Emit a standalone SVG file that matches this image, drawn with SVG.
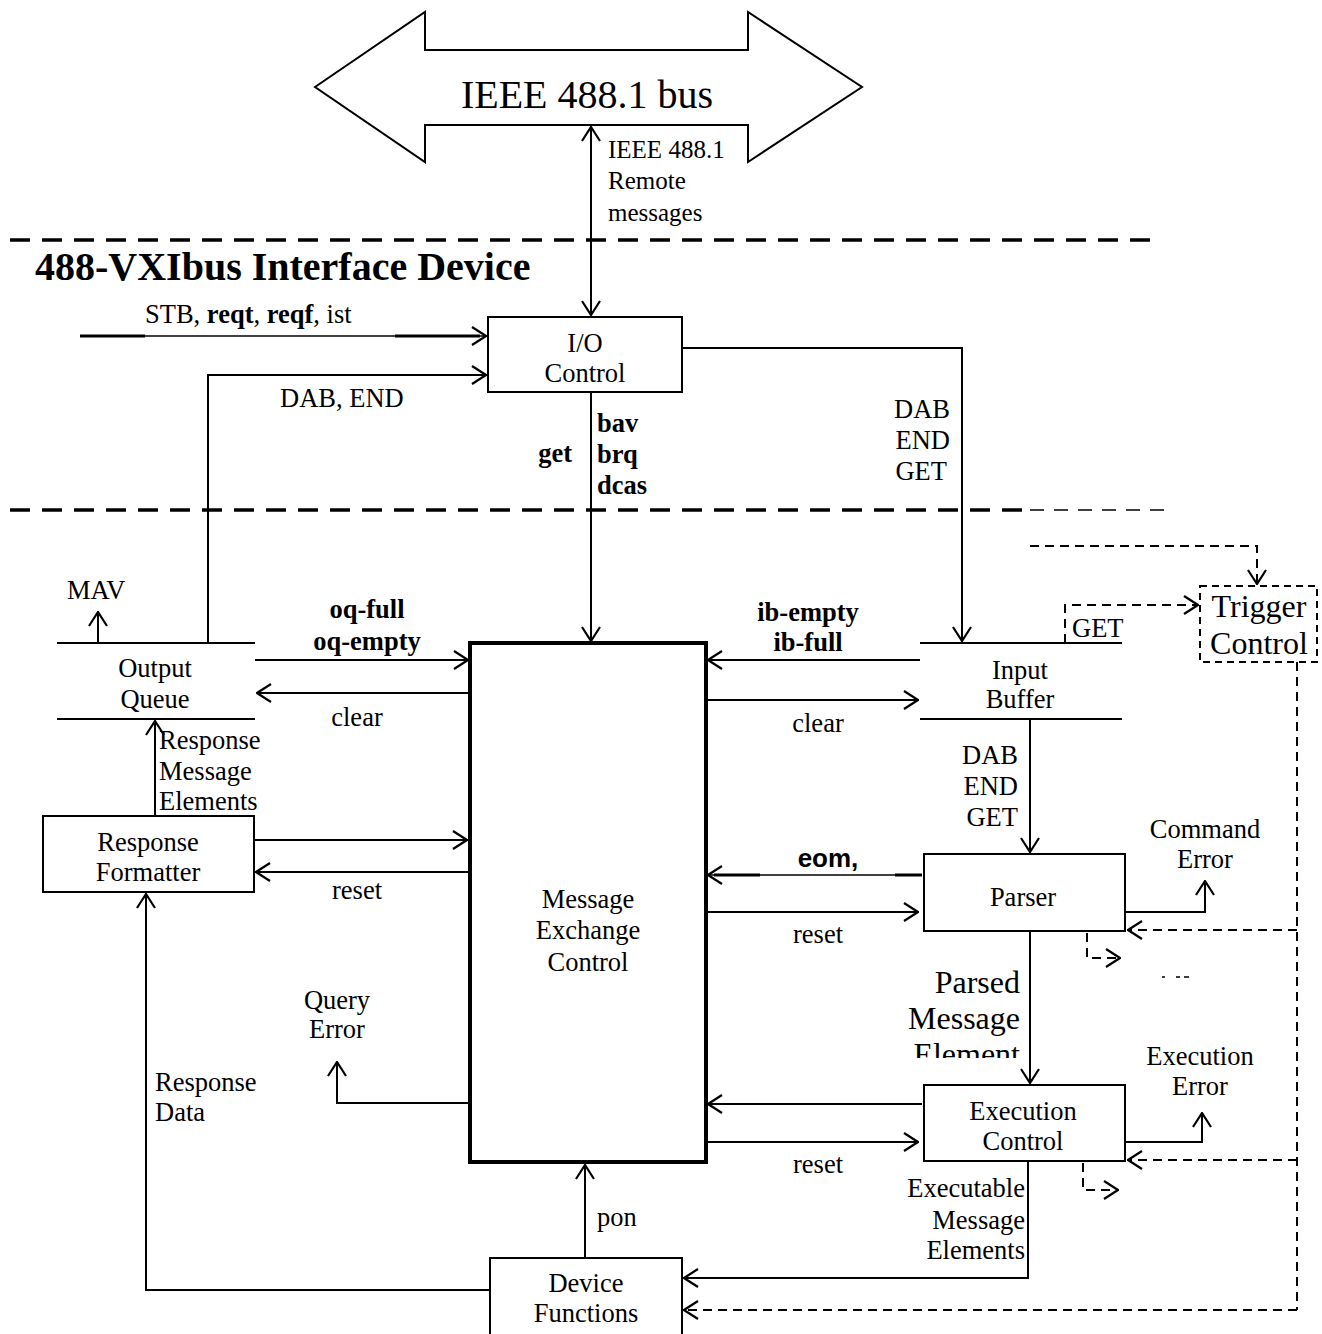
<svg xmlns="http://www.w3.org/2000/svg" width="1322" height="1334" viewBox="0 0 1322 1334">
<style>
text{font-family:"Liberation Serif","Times New Roman",serif;font-size:26.5px;fill:#000}
.c{text-anchor:middle}
.r{text-anchor:end}
.b{font-weight:bold}
.big{font-size:32px}
.box{fill:#fff;stroke:#000;stroke-width:2}
.ln{fill:none;stroke:#000;stroke-width:2}
.dl{fill:none;stroke:#000;stroke-width:2;stroke-dasharray:9,6}
.sep{fill:none;stroke:#000;stroke-width:3.5;stroke-dasharray:20,12}
.a{marker-end:url(#ah)}
</style>
<defs>
<marker id="ah" viewBox="0 0 16 20" refX="15" refY="10" markerWidth="16" markerHeight="20" markerUnits="userSpaceOnUse" orient="auto">
<path d="M1,1 L15,10 L1,19" fill="none" stroke="#000" stroke-width="2.2"/>
</marker>
<marker id="as" viewBox="0 0 16 20" refX="1" refY="10" markerWidth="16" markerHeight="20" markerUnits="userSpaceOnUse" orient="auto">
<path d="M15,1 L1,10 L15,19" fill="none" stroke="#000" stroke-width="2.2"/>
</marker>
<clipPath id="clipPE"><rect x="860" y="960" width="180" height="98"/></clipPath>
</defs>

<g id="bus">
<polygon points="315,87 425,12 425,50 748,50 748,12 862,87 748,162 748,125 425,125 425,162" fill="#fff" stroke="#000" stroke-width="2"/>
<text x="587" y="108" class="c" style="font-size:40px">IEEE 488.1 bus</text>
</g>

<g id="separators">
<line x1="10" y1="240" x2="1160" y2="240" class="sep"/>
<line x1="10" y1="510" x2="1025" y2="510" class="sep"/>
<line x1="1030" y1="510" x2="1165" y2="510" fill="none" stroke="#000" stroke-width="1.5" stroke-dasharray="14,10"/>
<text x="35" y="280" class="b" style="font-size:40px">488-VXIbus Interface Device</text>
</g>

<g id="io-control">
<rect x="488" y="317" width="194" height="75" class="box"/>
<text x="585" y="352" class="c">I/O</text>
<text x="585" y="382" class="c">Control</text>
</g>

<g id="output-queue">
<line x1="57" y1="643" x2="255" y2="643" class="ln"/>
<line x1="57" y1="719" x2="255" y2="719" class="ln"/>
<text x="155" y="677" class="c">Output</text>
<text x="155" y="708" class="c">Queue</text>
</g>

<g id="input-buffer">
<line x1="920" y1="643" x2="1122" y2="643" class="ln"/>
<line x1="920" y1="719" x2="1122" y2="719" class="ln"/>
<text x="1020" y="679" class="c">Input</text>
<text x="1020" y="708" class="c">Buffer</text>
</g>

<g id="message-exchange-control">
<rect x="470" y="643" width="236" height="519" fill="#fff" stroke="#000" stroke-width="4"/>
<text x="588" y="908" class="c">Message</text>
<text x="588" y="939" class="c">Exchange</text>
<text x="588" y="971" class="c">Control</text>
</g>

<g id="response-formatter">
<rect x="43" y="816" width="211" height="76" class="box"/>
<text x="148" y="851" class="c">Response</text>
<text x="148" y="881" class="c">Formatter</text>
</g>

<g id="parser">
<rect x="924" y="854" width="201" height="77" class="box"/>
<text x="1023" y="906" class="c">Parser</text>
</g>

<g id="execution-control">
<rect x="924" y="1085" width="201" height="76" class="box"/>
<text x="1023" y="1120" class="c">Execution</text>
<text x="1023" y="1150" class="c">Control</text>
</g>

<g id="device-functions">
<rect x="490" y="1258" width="192" height="80" class="box"/>
<text x="586" y="1292" class="c">Device</text>
<text x="586" y="1322" class="c">Functions</text>
</g>

<g id="trigger-control">
<rect x="1200" y="586" width="117" height="76" fill="#fff" stroke="#000" stroke-width="2" stroke-dasharray="7,5"/>
<text x="1259" y="617" class="c big">Trigger</text>
<text x="1259" y="654" class="c big">Control</text>
</g>

<g id="connectors">
<line x1="591" y1="127" x2="591" y2="315" class="ln a" marker-start="url(#as)"/>
<text x="608" y="158" style="font-size:25px">IEEE 488.1</text>
<text x="608" y="189" style="font-size:25px">Remote</text>
<text x="608" y="221" style="font-size:25px">messages</text>

<line x1="80" y1="336" x2="486" y2="336" stroke="#000" stroke-width="1.5" class="a"/>
<line x1="80" y1="336" x2="145" y2="336" stroke="#000" stroke-width="3"/>
<line x1="395" y1="336" x2="480" y2="336" stroke="#000" stroke-width="3"/>
<text x="145" y="323">STB, <tspan class="b">reqt</tspan>, <tspan class="b">reqf</tspan>, ist</text>

<path d="M208,643 V375 H486" class="ln a"/>
<text x="280" y="407">DAB, END</text>

<path d="M682,348 H962 V641" class="ln a"/>
<text x="950" y="418" class="r">DAB</text>
<text x="950" y="449" class="r">END</text>
<text x="947" y="480" class="r">GET</text>

<line x1="591" y1="392" x2="591" y2="641" class="ln a"/>
<text x="597" y="432" class="b">bav</text>
<text x="597" y="463" class="b">brq</text>
<text x="597" y="494" class="b">dcas</text>
<text x="572" y="462" class="r b">get</text>

<line x1="98" y1="643" x2="98" y2="612" class="ln a"/>
<text x="67" y="599">MAV</text>

<line x1="255" y1="660" x2="468" y2="660" class="ln a"/>
<text x="367" y="618" class="c b">oq-full</text>
<text x="367" y="650" class="c b">oq-empty</text>
<line x1="470" y1="693" x2="257" y2="693" class="ln a"/>
<text x="357" y="726" class="c">clear</text>

<line x1="920" y1="660" x2="708" y2="660" class="ln a"/>
<text x="808" y="621" class="c b">ib-empty</text>
<text x="808" y="651" class="c b">ib-full</text>
<line x1="706" y1="700" x2="918" y2="700" class="ln a"/>
<text x="818" y="732" class="c">clear</text>

<line x1="155" y1="816" x2="155" y2="721" class="ln a"/>
<text x="159" y="749">Response</text>
<text x="159" y="780">Message</text>
<text x="159" y="810">Elements</text>

<line x1="254" y1="840" x2="467" y2="840" class="ln a"/>
<line x1="470" y1="872" x2="256" y2="872" class="ln a"/>
<text x="357" y="899" class="c">reset</text>

<line x1="1030" y1="719" x2="1030" y2="852" class="ln a"/>
<text x="1018" y="764" class="r">DAB</text>
<text x="1018" y="795" class="r">END</text>
<text x="1018" y="826" class="r">GET</text>

<line x1="922" y1="875" x2="708" y2="875" stroke="#000" stroke-width="1.5" class="a"/>
<line x1="714" y1="875" x2="760" y2="875" stroke="#000" stroke-width="3"/>
<line x1="895" y1="875" x2="922" y2="875" stroke="#000" stroke-width="3"/>
<text x="828" y="867" class="c b" style="font-family:'Liberation Sans',Arial,sans-serif;font-size:26px">eom,</text>
<line x1="706" y1="912" x2="918" y2="912" class="ln a"/>
<text x="818" y="943" class="c">reset</text>

<path d="M1125,912 H1205 V881" class="ln a"/>
<text x="1205" y="838" class="c">Command</text>
<text x="1205" y="868" class="c">Error</text>

<path d="M1087,933 V958 H1120" class="dl a"/>
<path d="M1162,977 h3 M1176,977 h4 M1184,977 h5" fill="none" stroke="#000" stroke-width="1.5"/>

<line x1="1030" y1="931" x2="1030" y2="1083" class="ln a"/>
<g clip-path="url(#clipPE)">
<text x="1020" y="993" class="r big">Parsed</text>
<text x="1020" y="1029" class="r big">Message</text>
<text x="1020" y="1065" class="r big">Element</text>
</g>

<line x1="922" y1="1104" x2="708" y2="1104" class="ln a"/>
<line x1="706" y1="1142" x2="918" y2="1142" class="ln a"/>
<text x="818" y="1173" class="c">reset</text>

<path d="M1125,1142 H1202 V1113" class="ln a"/>
<text x="1200" y="1065" class="c">Execution</text>
<text x="1200" y="1095" class="c">Error</text>

<path d="M1083,1163 V1190 H1118" class="dl a"/>

<path d="M1028,1161 V1278 H684" class="ln a"/>
<text x="1025" y="1197" class="r">Executable</text>
<text x="1025" y="1229" class="r">Message</text>
<text x="1025" y="1259" class="r">Elements</text>

<line x1="585" y1="1258" x2="585" y2="1165" class="ln a"/>
<text x="597" y="1226">pon</text>

<path d="M490,1290 H146 V894" class="ln a"/>
<text x="155" y="1091">Response</text>
<text x="155" y="1121">Data</text>

<path d="M470,1103 H337 V1062" class="ln a"/>
<text x="337" y="1009" class="c">Query</text>
<text x="337" y="1038" class="c">Error</text>

<path d="M1030,546 H1257 V584" class="dl a"/>
<path d="M1065,643 V605 H1198" class="dl a"/>
<text x="1072" y="637">GET</text>

<path d="M1297,662 V1310" class="dl"/>
<line x1="1297" y1="930" x2="1128" y2="930" class="dl a"/>
<line x1="1297" y1="1160" x2="1128" y2="1160" class="dl a"/>
<line x1="1297" y1="1310" x2="684" y2="1310" class="dl a"/>
</g>
</svg>
